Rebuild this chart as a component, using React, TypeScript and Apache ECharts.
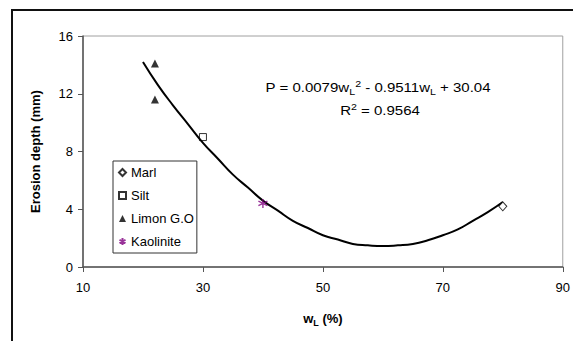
import React, { useEffect, useRef } from "react";
import * as echarts from "echarts";

const marl: number[][] = [[80, 4.2]];
const silt: number[][] = [[30, 9.0]];
const limon: number[][] = [[22, 14.1], [22, 11.6]];
const kaolinite: number[][] = [[40, 4.4]];
const trendX: number[] = [20, 22.5, 25, 27.5, 30, 32.5, 35, 37.5, 40, 42.5, 45, 47.5, 50, 52.5, 55, 57.5, 60, 62.5, 65, 67.5, 70, 72.5, 75, 77.5, 80];
const trendY: number[] = [14.2, 12.6, 11.2, 9.9, 8.6, 7.5, 6.4, 5.5, 4.6, 3.9, 3.2, 2.7, 2.2, 1.9, 1.6, 1.5, 1.45, 1.5, 1.6, 1.85, 2.2, 2.6, 3.2, 3.8, 4.5];
const xTicks = { min: 10, max: 90, interval: 20 };
const yTicks = { min: 0, max: 16, interval: 4 };

const FONT = "'Liberation Sans', Arial, sans-serif";
const ASTERISK = "path://M5 0 L5 10 M0.7 2.5 L9.3 7.5 M0.7 7.5 L9.3 2.5";

export default function App() {
  const ref = useRef<HTMLDivElement>(null);
  useEffect(() => {
    if (!ref.current) return;
    const chart = echarts.init(ref.current, undefined, { renderer: "svg" });
    const subSup = {
      sub: { fontSize: 8.5, fontFamily: FONT, color: "#000", verticalAlign: "bottom", lineHeight: 17 },
      sup: { fontSize: 8.5, fontFamily: FONT, color: "#000", verticalAlign: "top", lineHeight: 17 },
    };
    chart.setOption({
      animation: false,
      backgroundColor: "#fff",
      textStyle: { fontFamily: FONT },
      grid: {
        left: 83,
        right: 9.5,
        top: 36,
        bottom: 74,
        show: true,
        borderColor: "#a0a0a0",
        borderWidth: 1,
        backgroundColor: "transparent",
      },
      xAxis: {
        type: "value",
        min: xTicks.min,
        max: xTicks.max,
        interval: xTicks.interval,
        name: "w{sub|L} (%)",
        nameLocation: "middle",
        nameGap: 43,
        nameTextStyle: {
          fontSize: 13,
          fontWeight: "bold",
          color: "#000",
          fontFamily: FONT,
          rich: {
            sub: { fontSize: 9, fontWeight: "bold", fontFamily: FONT, color: "#000", verticalAlign: "bottom", lineHeight: 17 },
          },
        },
        axisLine: { lineStyle: { color: "#555", width: 1.5 } },
        axisTick: { show: true, length: 5, lineStyle: { color: "#555" } },
        axisLabel: { fontSize: 13, color: "#000", margin: 14, fontFamily: FONT },
        splitLine: { show: false },
      },
      yAxis: {
        type: "value",
        min: yTicks.min,
        max: yTicks.max,
        interval: yTicks.interval,
        name: "Erosion depth (mm)",
        nameLocation: "middle",
        nameGap: 41,
        nameRotate: 90,
        nameTextStyle: { fontSize: 13, fontWeight: "bold", color: "#000", fontFamily: FONT },
        axisLine: { show: true, lineStyle: { color: "#555", width: 1.5 } },
        axisTick: { show: true, length: 5, lineStyle: { color: "#555" } },
        axisLabel: { fontSize: 13, color: "#000", margin: 10, fontFamily: FONT },
        splitLine: { show: false },
      },
      legend: {
        data: ["Marl", "Silt", "Limon G.O", "Kaolinite"],
        orient: "vertical",
        left: 113,
        top: 161,
        itemWidth: 7,
        itemHeight: 7,
        itemGap: 10,
        padding: [5, 3, 5, 5],
        backgroundColor: "#fff",
        borderColor: "#333",
        borderWidth: 1,
        borderRadius: 0,
        textStyle: { fontSize: 13, color: "#000", fontFamily: FONT, lineHeight: 13 },
      },
      series: [
        {
          name: "Trend",
          type: "line",
          data: trendX.map((x, i) => [x, trendY[i]]),
          smooth: true,
          showSymbol: false,
          symbol: "none",
          lineStyle: { color: "#000", width: 2 },
          z: 3,
        },
        {
          name: "Marl",
          type: "scatter",
          data: marl,
          symbol: "diamond",
          symbolSize: [8, 9],
          itemStyle: { color: "#fff", borderColor: "#000", borderWidth: 1 },
          z: 4,
        },
        {
          name: "Silt",
          type: "scatter",
          data: silt,
          symbol: "rect",
          symbolSize: 7,
          itemStyle: { color: "#fff", borderColor: "#000", borderWidth: 1 },
          z: 2,
        },
        {
          name: "Limon G.O",
          type: "scatter",
          data: limon,
          symbol: "triangle",
          symbolSize: 8,
          itemStyle: { color: "#000" },
          z: 4,
        },
        {
          name: "Kaolinite",
          type: "scatter",
          data: kaolinite,
          symbol: ASTERISK,
          symbolSize: 9,
          itemStyle: { color: "rgba(0,0,0,0)", borderColor: "#800080", borderWidth: 1.4 },
          z: 4,
        },
      ],
      graphic: [
        {
          type: "rect",
          shape: { x: 12, y: 10, width: 620, height: 400 },
          style: { fill: "none", stroke: "#111", lineWidth: 2 },
          silent: true,
          z: 0,
        },
        {
          type: "text",
          x: 378,
          y: 88,
          scaleX: 1.25,
          style: {
            text: "P = 0.0079w{sub|L}{sup|2} - 0.9511w{sub|L} + 30.04",
            fontSize: 12,
            fontFamily: FONT,
            fill: "#000",
            align: "center",
            verticalAlign: "middle",
            lineHeight: 17,
            rich: subSup,
          },
          z: 10,
        },
        {
          type: "text",
          x: 380,
          y: 111,
          scaleX: 1.25,
          style: {
            text: "R{sup|2} = 0.9564",
            fontSize: 12,
            fontFamily: FONT,
            fill: "#000",
            align: "center",
            verticalAlign: "middle",
            lineHeight: 17,
            rich: subSup,
          },
          z: 10,
        },
      ],
    });
    return () => chart.dispose();
  }, []);
  return (
    <div
      ref={ref}
      style={{ position: "absolute", left: 0, top: 0, width: 573, height: 341 }}
    />
  );
}
